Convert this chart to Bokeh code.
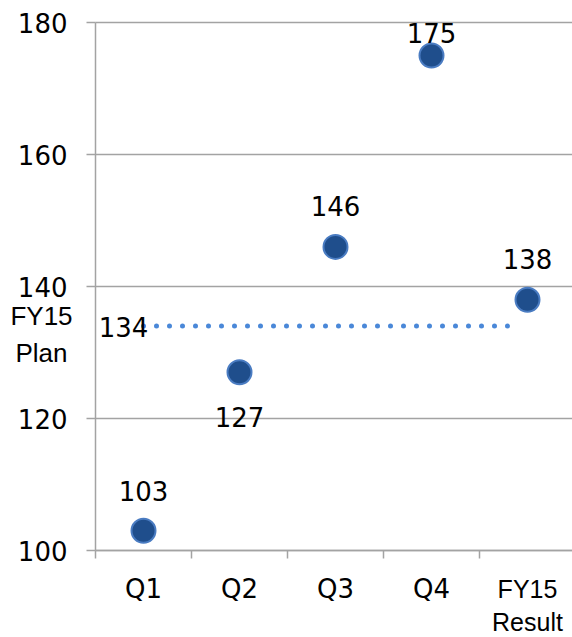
from bokeh.plotting import figure
from bokeh.models import Range1d, FixedTicker, ColumnDataSource
from bokeh.core.properties import value
from bokeh.embed import file_html
from bokeh.resources import INLINE

categories = ["Q1", "Q2", "Q3", "Q4", "FY15\nResult"]
values = [103, 127, 146, 175, 138]
plan_value = 134
plan_label = "FY15\nPlan"
y_ticks = [100, 120, 140, 160, 180]

# label placement (pixels, style only)
label_dy = [-40, 45, -41, -23, -41]

W, H = 572, 637
axis_left_px = 95      # y axis position from left
axis_bottom_px = 87    # x axis position from bottom
cat_px = 96.0          # pixels per category
y_lo, y_hi = 100, 180
plot_top_px = 22
px_per_y = (H - axis_bottom_px - plot_top_px) / (y_hi - y_lo)

xs = list(range(1, len(categories) + 1))
x_axis_pos = 0.5
x_start = x_axis_pos - axis_left_px / cat_px
x_end = x_axis_pos + (W - axis_left_px) / cat_px
y_start = y_lo - axis_bottom_px / px_per_y
y_end = y_hi + plot_top_px / px_per_y

p = figure(width=W, height=H, output_backend="svg", toolbar_location=None,
           x_range=Range1d(x_start, x_end), y_range=Range1d(y_start, y_end),
           min_border=0)
p.outline_line_color = None
p.background_fill_color = "white"
p.border_fill_color = "white"
p.xgrid.grid_line_color = None
p.ygrid.grid_line_color = None

GRAY = "#a3a3a3"

# horizontal grid lines (from the y ticks)
p.segment(x0=[x_axis_pos] * len(y_ticks), x1=[x_end] * len(y_ticks),
          y0=y_ticks, y1=y_ticks, line_color=GRAY, line_width=1.5)

# axes fixed inside the frame
p.xaxis.fixed_location = y_lo
p.xaxis.bounds = (x_axis_pos, x_end)
p.xaxis.ticker = FixedTicker(ticks=xs, minor_ticks=[x - 0.5 for x in xs])
p.xaxis.major_label_overrides = {x: (c if "\n" not in c else "") for x, c in zip(xs, categories)}
p.xaxis.major_tick_out = 0
p.xaxis.major_tick_in = 0
p.xaxis.minor_tick_out = 8
p.xaxis.minor_tick_in = 0
p.xaxis.minor_tick_line_color = GRAY
p.xaxis.minor_tick_line_width = 1.5
p.xaxis.axis_line_color = GRAY
p.xaxis.axis_line_width = 1.5
p.xaxis.major_label_text_font = "DejaVu Sans"
p.xaxis.major_label_text_font_size = "26px"
p.xaxis.major_label_text_color = "black"
p.xaxis.major_label_standoff = 15

p.yaxis.fixed_location = x_axis_pos
p.yaxis.bounds = (y_lo, y_hi)
p.yaxis.ticker = FixedTicker(ticks=y_ticks, minor_ticks=[])
p.yaxis.major_tick_out = 9
p.yaxis.major_tick_in = 0
p.yaxis.major_tick_line_color = GRAY
p.yaxis.major_tick_line_width = 1.5
p.yaxis.axis_line_color = GRAY
p.yaxis.axis_line_width = 1.5
p.yaxis.major_label_text_font = "DejaVu Sans"
p.yaxis.major_label_text_font_size = "26px"
p.yaxis.major_label_text_color = "black"
p.yaxis.major_label_standoff = 19

# plan dotted line
p.line(x=[xs[0], xs[-1] - 0.1], y=[plan_value, plan_value], line_color="#4a88d8",
       line_width=5, line_dash="0 13", line_cap="round")
p.text(x=[xs[0]], y=[plan_value], text=[str(plan_value)], x_offset=-20, y_offset=1,
       text_align="center", text_baseline="middle",
       text_font=value("DejaVu Sans"), text_font_size="26px", text_color="black")

# result points
src = ColumnDataSource(dict(x=xs, y=values, t=[str(v) for v in values], dy=label_dy))
p.scatter(x="x", y="y", source=src, size=24, fill_color="#1f4e8c",
          line_color="#4a7cc2", line_width=2)
p.text(x="x", y="y", text="t", y_offset="dy", source=src, text_align="center",
       text_baseline="middle", text_font=value("DejaVu Sans"),
       text_font_size="26px", text_color="black")

# multi-line labels in an Arial-like font
p.text(x=[x_axis_pos - 54 / cat_px], y=[plan_value], text=[plan_label],
       y_offset=[8], text_align="center", text_baseline="middle",
       text_font=value("Liberation Sans"), text_font_size="26px",
       text_line_height=1.23, text_color="black")
p.text(x=[xs[-1]], y=[y_lo], text=[categories[-1]], y_offset=[24],
       text_align="center", text_baseline="top",
       text_font=value("Liberation Sans"), text_font_size="25px",
       text_line_height=1.18, text_color="black")

open("out.html", "w").write(file_html(p, INLINE))
